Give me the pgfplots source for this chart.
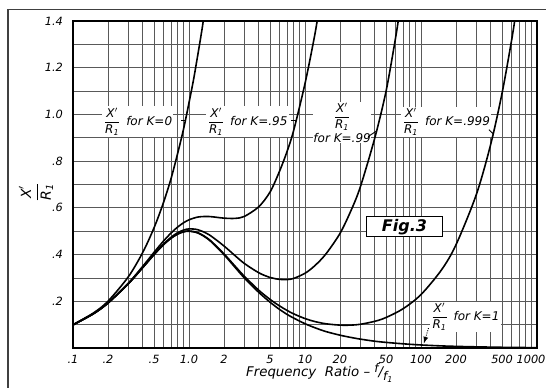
\documentclass[border=0pt]{standalone}
\usepackage{amsmath}
\usepackage{pgfplots}
\pgfplotsset{compat=1.18}
\usepackage{fontspec}
\setmainfont{DejaVu Sans}
\newcommand{\XR}{$\displaystyle\frac{\textit{X}'}{\textit{R}_{\textit{1}}}$}
\begin{document}
\begin{tikzpicture}
\useasboundingbox (-54.75pt,-32pt) rectangle (354.75pt,261pt);
\begin{axis}[
  at={(0pt,0pt)}, anchor=south west,
  width=348pt, height=245.25pt, scale only axis,
  xmode=log, xmin=0.1, xmax=1000, ymin=0, ymax=1.4,
  xtick={0.1,0.2,0.5,1,2,5,10,20,50,100,200,500,1000},
  xticklabels={.1,.2,.5,1.0,2,5,10,20,50,100,200,500,{\hspace*{-9pt}1000}},
  minor xtick={0.3,0.4,0.6,0.7,0.8,0.9,3,4,6,7,8,9,30,40,60,70,80,90,300,400,600,700,800,900},
  ytick={0.2,0.4,0.6,0.8,1.0,1.2,1.4},
  yticklabels={.2,.4,.6,.8,1.0,1.2,1.4},
  minor ytick={0.1,0.3,0.5,0.7,0.9,1.1,1.3},
  grid=both,
  major grid style={black!65,line width=0.6pt},
  minor grid style={black!65,line width=0.6pt},
  major tick length=0pt, minor tick length=0pt,
  axis line style={line width=1.2pt},
  tick label style={font=\itshape\fontsize{8.5}{10}\selectfont},
  xticklabel style={yshift=-2pt},
  yticklabel style={xshift=-4pt},
  every axis plot post/.append style={black, line width=1.2pt, smooth, mark=none},
]
% K = 0
\addplot coordinates {(0.1,0.1) (0.15,0.15) (0.2,0.2) (0.3,0.305) (0.4,0.41) (0.5,0.515) (0.6,0.62) (0.7,0.725) (0.8,0.835) (0.9,0.94) (1.0,1.05) (1.1,1.155) (1.2,1.265) (1.3,1.37) (1.4,1.48)};
% K = .95
\addplot coordinates {(0.1,0.0991) (0.15,0.1470) (0.2,0.1931) (0.3,0.2777) (0.4,0.3502) (0.5,0.4098) (0.6,0.4567) (0.7,0.4922) (0.8,0.5182) (0.9,0.5365) (1,0.5488) (1.2,0.5609) (1.5,0.5628) (2,0.556) (2.5,0.555) (3,0.5633) (4,0.605) (5,0.668) (6,0.754) (7,0.841) (8,0.933) (10,1.132) (12,1.327) (13,1.428) (14,1.53)};
% K = .99
\addplot coordinates {(0.1,0.099) (0.15,0.147) (0.2,0.192) (0.3,0.276) (0.4,0.346) (0.5,0.402) (0.6,0.444) (0.7,0.474) (0.8,0.494) (0.9,0.505) (1,0.510) (1.2,0.506) (1.5,0.484) (2,0.437) (2.5,0.395) (3,0.362) (4,0.322) (5,0.302) (6,0.294) (7,0.293) (8,0.298) (10,0.32) (12,0.35) (15,0.40) (20,0.49) (25,0.59) (30,0.69) (40,0.90) (50,1.10) (60,1.32) (65,1.43) (70,1.53)};
% K = .999
\addplot coordinates {(0.1,0.099) (0.15,0.1467) (0.2,0.1923) (0.3,0.2753) (0.4,0.3449) (0.5,0.4002) (0.6,0.4415) (0.7,0.4703) (0.8,0.4884) (0.9,0.4980) (1,0.5010) (1.2,0.4932) (1.5,0.4636) (2,0.4032) (2.5,0.350) (3,0.307) (4,0.247) (5,0.208) (6,0.181) (7,0.161) (8,0.146) (10,0.126) (12,0.114) (15,0.104) (20,0.098) (25,0.098) (30,0.1016) (40,0.1143) (50,0.1307) (70,0.168) (100,0.2288) (150,0.3341) (200,0.4412) (300,0.6573) (400,0.8743) (500,1.0916) (600,1.3092) (650,1.418) (700,1.5268)};
% K = 1
\addplot coordinates {(0.1,0.099) (0.15,0.1467) (0.2,0.1923) (0.3,0.2752) (0.4,0.3448) (0.5,0.4) (0.6,0.4412) (0.7,0.4698) (0.8,0.4878) (0.9,0.4972) (1,0.5) (1.2,0.4918) (1.5,0.4615) (2,0.4) (2.5,0.3448) (3,0.3) (4,0.238) (5,0.196) (6,0.166) (7,0.144) (8,0.128) (10,0.104) (12,0.088) (15,0.071) (20,0.055) (25,0.045) (30,0.038) (40,0.029) (50,0.024) (70,0.018) (100,0.013) (150,0.009) (200,0.007) (300,0.005) (500,0.003) (1000,0.0015)};

% annotations
\tikzset{lab/.style={fill=white, inner sep=1pt, font=\itshape\fontsize{9}{10.5}\selectfont}}
\node[lab, anchor=west] at (axis cs:0.178,0.97) {\XR\hspace{4pt}for K=0};
\draw[line width=0.7pt] (axis cs:0.86,0.975) -- (axis cs:0.94,0.975);
\node[lab, anchor=west] at (axis cs:1.40,0.97) {\XR\hspace{4pt}for K=.95};
\draw[line width=0.7pt] (axis cs:7.6,0.975) -- (axis cs:8.45,0.975);
\node[lab, align=center, inner sep=0.5pt] at (axis cs:20.9,0.965) {\XR\\[1pt] for K=.99};
\draw[line width=0.7pt] (axis cs:35,0.905) -- (axis cs:41.6,0.93);
\node[lab, anchor=west] at (axis cs:67,0.969) {\XR\hspace{4pt}for K=.999};
\draw[line width=0.7pt] (axis cs:385,0.935) -- (axis cs:423,0.915);
\node[lab, anchor=west] at (axis cs:118,0.134) {\XR\hspace{4pt}for K=1};
\draw[line width=0.7pt, densely dotted, -latex] (axis cs:116,0.085) -- (axis cs:106,0.02);
\node[draw, line width=1pt, fill=white, minimum width=57pt, minimum height=15pt, inner sep=0pt,
      font=\bfseries\itshape\fontsize{12}{14}\selectfont] at (axis cs:72.1,0.519) {Fig.3};
\end{axis}
% outer page frame
\draw[line width=1pt, black!75] (-48.75pt,-29.8pt) -- (-48.75pt,253.7pt) -- (354.75pt,253.7pt);
% axis labels
\node[font=\itshape\fontsize{10}{12}\selectfont] at (185pt,-18.5pt)
  {Frequency\ \ Ratio -- \raisebox{0.6ex}{\small f}/\raisebox{-0.5ex}{\small f\textsubscript{1}}};
\node[rotate=90, font=\itshape\fontsize{10.5}{12}\selectfont] at (-27.75pt,117pt) {\XR};
\end{tikzpicture}
\end{document}
